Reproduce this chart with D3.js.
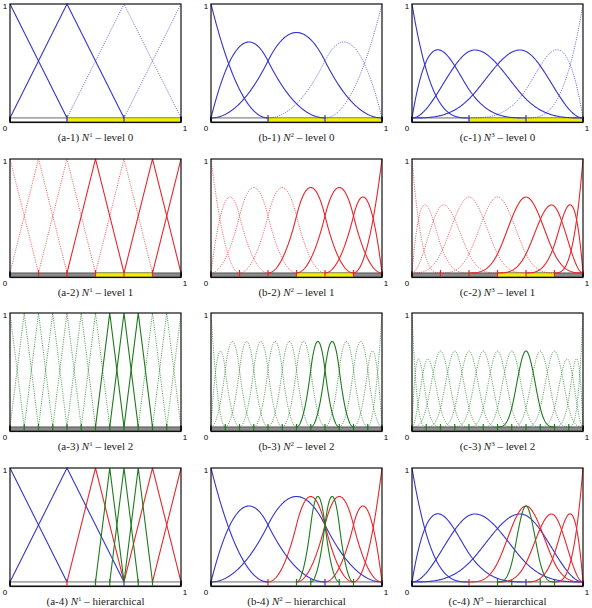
<!DOCTYPE html>
<html>
<head>
<meta charset="utf-8">
<script src="https://cdn.jsdelivr.net/npm/d3@7/dist/d3.min.js"></script>
<style>
   body { margin: 0; background: #fff; }
   svg { display: block; }
</style>
</head>
<body>
<svg class="splines" width="592" height="608"></svg>
<script>
// knot lines of each level (interior + ends), open knot vectors are built from these
var level0Knots = [0, 1 / 3, 2 / 3, 1];
var level1Knots = [0, 1 / 6, 2 / 6, 3 / 6, 4 / 6, 5 / 6, 1];
var level2Knots = [0, 1 / 12, 2 / 12, 3 / 12, 4 / 12, 5 / 12, 6 / 12, 7 / 12, 8 / 12, 9 / 12, 10 / 12, 11 / 12, 1];
var levelKnots = [level0Knots, level1Knots, level2Knots];

// nested subdomains Omega_0 ⊃ Omega_1 ⊃ Omega_2
var subdomains = [[0, 1], [1 / 3, 1], [1 / 2, 5 / 6]];

var degrees = [1, 2, 3];
var columnLetters = ['a', 'b', 'c'];
var rowLabels = ['level 0', 'level 1', 'level 2', 'hierarchical'];
var levelColors = ['#3434cc', '#e8262b', '#1d7a1d'];

// knot marks on the hierarchical mesh and the level whose colour they take
var hierarchicalTicks = [1 / 3, 1 / 2, 7 / 12, 2 / 3, 3 / 4, 5 / 6];
var hierarchicalTickLevels = [1, 2, 2, 0, 2, 2];

var svg = d3.select('svg.splines');

var layout = {
   columnX: [10, 211, 412],
   rowY: [4, 159, 313, 468],
   width: 171,
   height: 118.5
};

function openKnots(knots, p) {
   var t = [];
   for (var k = 0; k < p; k++) t.push(0);
   t = t.concat(knots);
   for (k = 0; k < p; k++) t.push(1);
   return t;
}

// Cox - de Boor recursion
function basis(t, i, p, x) {
   if (p === 0) return (x >= t[i] && x < t[i + 1]) ? 1 : 0;
   var a = 0, b = 0;
   if (t[i + p] > t[i]) a = (x - t[i]) / (t[i + p] - t[i]) * basis(t, i, p - 1, x);
   if (t[i + p + 1] > t[i + 1]) b = (t[i + p + 1] - x) / (t[i + p + 1] - t[i + 1]) * basis(t, i + 1, p - 1, x);
   return a + b;
}

function inside(support, region) {
   return region && support[0] >= region[0] - 1e-9 && support[1] <= region[1] + 1e-9;
}

function levelFunctions(level, p) {
   var t = openKnots(levelKnots[level], p);
   var n = t.length - p - 1, list = [];
   for (var i = 0; i < n; i++) {
      var support = [t[i], t[i + p + 1]];
      var active = inside(support, subdomains[level]) && !inside(support, subdomains[level + 1]);
      var xs = d3.range(0, 201).map(function (k) {
         return support[0] + (support[1] - support[0]) * k / 200;
      });
      levelKnots[level].forEach(function (k) {
         if (k > support[0] && k < support[1]) xs.push(k);
      });
      xs.sort(d3.ascending);
      var points = xs.map(function (x) {
         var xe = Math.min(x, 1 - 1e-10);
         return [x, basis(t, i, p, xe)];
      });
      list.push({level: level, active: active, points: points});
   }
   return list;
}

function drawPanel(row, col) {
   var p = degrees[col];
   var x0 = layout.columnX[col], y0 = layout.rowY[row];
   var g = svg.append('g').attr('transform', 'translate(' + x0 + ',' + y0 + ')');

   var x = d3.scaleLinear().domain([0, 1]).range([0, layout.width]);
   var y = d3.scaleLinear().domain([-0.04, 1]).range([layout.height, 0]);
   var line = d3.line().x(function (d) { return x(d[0]); }).y(function (d) { return y(d[1]); });

   var hierarchical = row === 3;
   var funcs = [];
   if (hierarchical) {
      [0, 1, 2].forEach(function (l) {
         funcs = funcs.concat(levelFunctions(l, p).filter(function (f) { return f.active; }));
      });
   } else {
      funcs = levelFunctions(row, p);
   }

   // strip along the parameter axis
   var stripTop = y(0), stripBottom = y(-0.034);
   g.append('rect')
      .attr('x', x(0)).attr('y', stripTop)
      .attr('width', x(1) - x(0)).attr('height', stripBottom - stripTop)
      .attr('fill', (row === 1 || row === 2) ? '#8a8a8a' : '#fff')
      .attr('stroke', '#444').attr('stroke-width', 0.8);

   if (!hierarchical && subdomains[row + 1]) {
      var r = subdomains[row + 1];
      g.append('rect')
         .attr('x', x(r[0])).attr('y', stripTop)
         .attr('width', x(r[1]) - x(r[0])).attr('height', stripBottom - stripTop)
         .attr('fill', '#f2f000')
         .attr('stroke', '#8a8a20').attr('stroke-width', 0.6);
   }

   var ticks, tickColors;
   if (hierarchical) {
      ticks = hierarchicalTicks;
      tickColors = hierarchicalTickLevels.map(function (l) { return levelColors[l]; });
   } else {
      ticks = levelKnots[row].slice(1, -1);
      tickColors = ticks.map(function () { return levelColors[row]; });
   }
   g.selectAll('.knot').data(ticks).enter().append('line')
      .attr('class', 'knot')
      .attr('x1', function (d) { return x(d); }).attr('x2', function (d) { return x(d); })
      .attr('y1', stripBottom).attr('y2', stripTop - 3)
      .attr('stroke', function (d, i) { return tickColors[i]; })
      .attr('stroke-width', 1.2);
   g.selectAll('.end').data([0, 1]).enter().append('line')
      .attr('class', 'end')
      .attr('x1', function (d) { return x(d); }).attr('x2', function (d) { return x(d); })
      .attr('y1', stripBottom).attr('y2', stripTop - 1.5)
      .attr('stroke', '#111').attr('stroke-width', 2);

   // inactive functions first (dotted), then active ones
   funcs.sort(function (a, b) { return (a.active ? 1 : 0) - (b.active ? 1 : 0); });
   g.selectAll('.basis').data(funcs).enter().append('path')
      .attr('class', 'basis')
      .attr('d', function (d) { return line(d.points); })
      .attr('fill', 'none')
      .attr('stroke', function (d) { return levelColors[d.level]; })
      .attr('stroke-width', function (d) { return d.active ? 1.1 : 0.9; })
      .attr('stroke-dasharray', function (d) { return d.active ? null : '1,1.3'; })
      .attr('stroke-opacity', function (d) { return d.active ? 1 : 0.9; });

   g.append('rect')
      .attr('x', 0).attr('y', 0)
      .attr('width', layout.width).attr('height', layout.height)
      .attr('fill', 'none')
      .attr('stroke', '#111').attr('stroke-width', 1.2);

   var labelFont = "'Liberation Sans', Arial, sans-serif";
   [['0', -5, layout.height + 8], ['1', layout.width + 4, layout.height + 8], ['1', -5, 5]].forEach(function (l) {
      g.append('text').text(l[0])
         .attr('x', l[1]).attr('y', l[2])
         .attr('text-anchor', 'middle')
         .attr('font-family', labelFont).attr('font-size', 8);
   });

   var caption = g.append('text')
      .attr('x', layout.width / 2).attr('y', layout.height + 18)
      .attr('text-anchor', 'middle')
      .attr('font-family', "'Liberation Serif', 'DejaVu Serif', serif")
      .attr('font-size', 11)
      .attr('fill', '#222');
   caption.append('tspan').text('(' + columnLetters[col] + '-' + (row + 1) + ') ');
   caption.append('tspan').text('N').attr('font-style', 'italic');
   caption.append('tspan').text(p).attr('dy', -4).attr('font-size', 7);
   caption.append('tspan').text(' \u2013 ' + rowLabels[row]).attr('dy', 4);
}

for (var row = 0; row < 4; row++) {
   for (var col = 0; col < 3; col++) {
      drawPanel(row, col);
   }
}
</script>
</body>
</html>
